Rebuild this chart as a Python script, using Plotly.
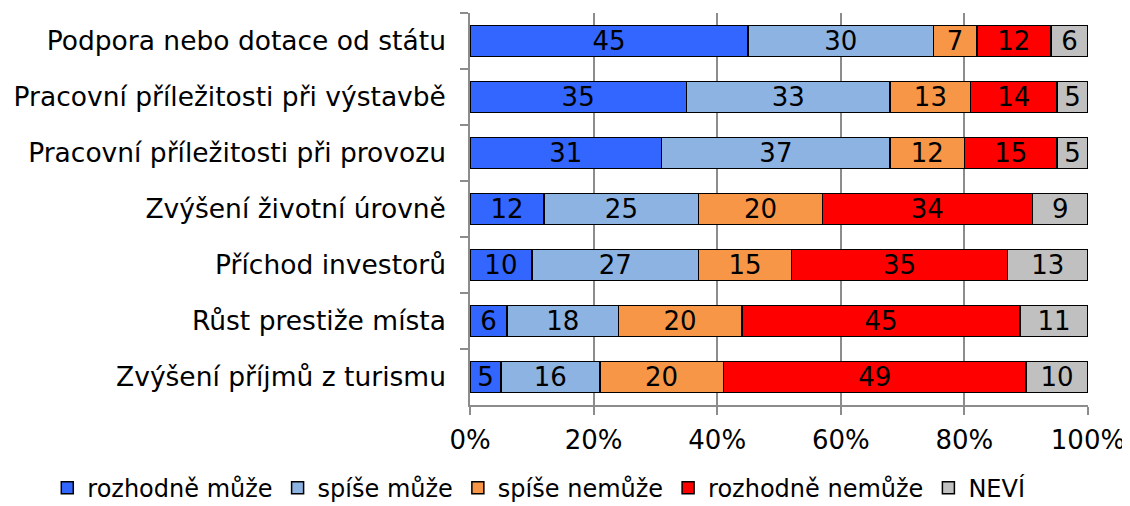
import plotly.graph_objects as go

categories = [
    "Podpora nebo dotace od státu",
    "Pracovní příležitosti při výstavbě",
    "Pracovní příležitosti při provozu",
    "Zvýšení životní úrovně",
    "Příchod investorů",
    "Růst prestiže místa",
    "Zvýšení příjmů z turismu",
]
series_names = ["rozhodně může", "spíše může", "spíše nemůže", "rozhodně nemůže", "NEVÍ"]
rozhodne_muze = [45, 35, 31, 12, 10, 6, 5]
spise_muze = [30, 33, 37, 25, 27, 18, 16]
spise_nemuze = [7, 13, 12, 20, 15, 20, 20]
rozhodne_nemuze = [12, 14, 15, 34, 35, 45, 49]
nevi = [6, 5, 5, 9, 13, 11, 10]
series_values = [rozhodne_muze, spise_muze, spise_nemuze, rozhodne_nemuze, nevi]
colors = ["#3366FF", "#8DB3E2", "#F79646", "#FF0000", "#C0C0C0"]
tick_vals = [0, 20, 40, 60, 80, 100]
tick_text = ["0%", "20%", "40%", "60%", "80%", "100%"]

FONT = "DejaVu Sans"

fig = go.Figure()
for name, vals, col in zip(series_names, series_values, colors):
    fig.add_trace(go.Bar(
        y=categories, x=vals, name=name, orientation="h",
        marker=dict(color=col, line=dict(color="black", width=1.5)),
        text=[str(v) for v in vals], textposition="inside",
        insidetextanchor="middle", textangle=0, constraintext="none",
        textfont=dict(family=FONT, size=26, color="black"),
    ))

# page body has an 8px margin, so the figure is sized 8px smaller
fig.update_layout(
    barmode="stack",
    bargap=0.45,
    width=1122, height=498,
    margin=dict(l=462, r=42, t=5, b=101, autoexpand=False),
    paper_bgcolor="white", plot_bgcolor="white",
    font=dict(family=FONT, size=26, color="black"),
    showlegend=True,
    legend=dict(
        orientation="h", xref="paper", yref="paper",
        x=-0.684, xanchor="left", y=-0.212, yanchor="middle",
        font=dict(family=FONT, size=24, color="black"),
        itemwidth=30, traceorder="normal", borderwidth=0,
    ),
    uniformtext=dict(mode=False),
)
fig.update_xaxes(
    range=[0, 100], tickvals=tick_vals, ticktext=tick_text,
    showgrid=True, gridcolor="#8C8C8C", gridwidth=1.5,
    showline=True, linecolor="#8C8C8C", linewidth=1.5,
    ticks="outside", ticklen=8, tickcolor="#8C8C8C", tickwidth=1.5,
    tickfont=dict(family=FONT, size=26, color="black"),
    ticklabelstandoff=3,
    zeroline=False, fixedrange=True, automargin=False,
)
fig.update_yaxes(
    autorange="reversed", type="category",
    showline=True, linecolor="#8C8C8C", linewidth=1.5,
    ticks="outside", tickson="boundaries", ticklen=8, tickcolor="#8C8C8C", tickwidth=1.5,
    tickfont=dict(family=FONT, size=26.5, color="black"),
    ticklabelstandoff=17, automargin=False,
    showgrid=False,
)

fig.write_html("out.html")
